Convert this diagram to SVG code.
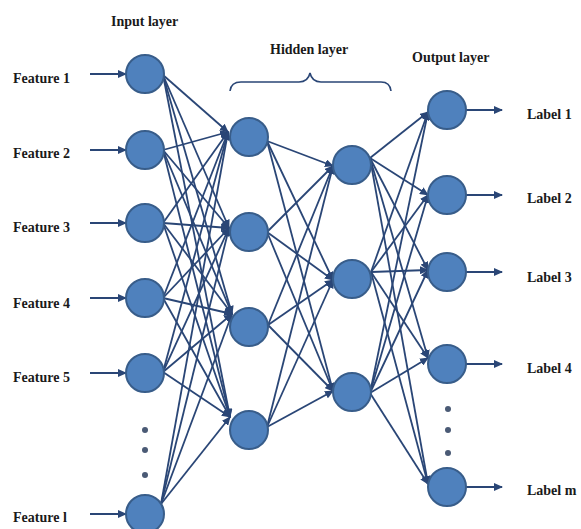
<svg xmlns="http://www.w3.org/2000/svg" width="581" height="529" viewBox="0 0 581 529">
<defs>
<style>
.t{font-family:"Liberation Serif","Times New Roman",serif;font-weight:bold;font-size:14px;fill:#1a1a1a}
.n{fill:#4F81BD;stroke:#385D8A;stroke-width:2}
.c line{stroke:#2A4676;stroke-width:1.8;marker-end:url(#ah)}
.d{fill:#4A5A75}
</style>
<marker id="ah" markerUnits="userSpaceOnUse" markerWidth="9" markerHeight="8" refX="8" refY="4" orient="auto">
<path d="M0,0 L9,4 L0,8 z" fill="#2A4676"/>
</marker>
</defs>
<rect width="581" height="529" fill="#fff"/>
<g id="titles">
<text class="t" x="111" y="26">Input layer</text>
<text class="t" x="270" y="54">Hidden layer</text>
<text class="t" x="412" y="62">Output layer</text>
<path d="M230,91 Q231,82 241,82 L299,82 Q308,82 310,73 Q312,82 321,82 L381,82 Q390,82 391,91" fill="none" stroke="#2A4676" stroke-width="1.6"/>
</g>
<g id="connectors" class="c">
<line x1="90" y1="74" x2="126" y2="74"/>
<line x1="90" y1="150" x2="126" y2="150"/>
<line x1="90" y1="223" x2="126" y2="223"/>
<line x1="90" y1="298" x2="126" y2="298"/>
<line x1="90" y1="373" x2="126" y2="373"/>
<line x1="90" y1="514" x2="126" y2="514"/>
<line x1="163" y1="75" x2="228" y2="132"/>
<line x1="163" y1="75" x2="229" y2="228"/>
<line x1="163" y1="75" x2="232" y2="314"/>
<line x1="163" y1="75" x2="230" y2="417"/>
<line x1="163" y1="150" x2="228" y2="132"/>
<line x1="163" y1="150" x2="229" y2="228"/>
<line x1="163" y1="150" x2="232" y2="314"/>
<line x1="163" y1="150" x2="230" y2="417"/>
<line x1="163" y1="223" x2="228" y2="132"/>
<line x1="163" y1="223" x2="229" y2="228"/>
<line x1="163" y1="223" x2="232" y2="314"/>
<line x1="163" y1="223" x2="230" y2="417"/>
<line x1="163" y1="298" x2="228" y2="132"/>
<line x1="163" y1="298" x2="229" y2="228"/>
<line x1="163" y1="298" x2="232" y2="314"/>
<line x1="163" y1="298" x2="230" y2="417"/>
<line x1="163" y1="372" x2="228" y2="132"/>
<line x1="163" y1="372" x2="229" y2="228"/>
<line x1="163" y1="372" x2="232" y2="314"/>
<line x1="163" y1="372" x2="230" y2="417"/>
<line x1="161" y1="504" x2="228" y2="132"/>
<line x1="161" y1="504" x2="229" y2="228"/>
<line x1="161" y1="504" x2="232" y2="314"/>
<line x1="161" y1="504" x2="230" y2="417"/>
<line x1="267" y1="141" x2="333" y2="166"/>
<line x1="267" y1="141" x2="333" y2="280"/>
<line x1="267" y1="141" x2="333" y2="391"/>
<line x1="267" y1="232" x2="333" y2="166"/>
<line x1="267" y1="232" x2="333" y2="280"/>
<line x1="267" y1="232" x2="333" y2="391"/>
<line x1="268" y1="325" x2="333" y2="166"/>
<line x1="268" y1="325" x2="333" y2="280"/>
<line x1="268" y1="325" x2="333" y2="391"/>
<line x1="267" y1="427" x2="333" y2="166"/>
<line x1="267" y1="427" x2="333" y2="280"/>
<line x1="267" y1="427" x2="333" y2="391"/>
<line x1="370" y1="158" x2="428" y2="112"/>
<line x1="370" y1="158" x2="428" y2="195"/>
<line x1="370" y1="158" x2="428" y2="270"/>
<line x1="370" y1="158" x2="428" y2="358"/>
<line x1="370" y1="158" x2="428" y2="484"/>
<line x1="371" y1="272" x2="428" y2="112"/>
<line x1="371" y1="272" x2="428" y2="195"/>
<line x1="371" y1="272" x2="428" y2="270"/>
<line x1="371" y1="272" x2="428" y2="358"/>
<line x1="371" y1="272" x2="428" y2="484"/>
<line x1="370" y1="393" x2="428" y2="112"/>
<line x1="370" y1="393" x2="428" y2="195"/>
<line x1="370" y1="393" x2="428" y2="270"/>
<line x1="370" y1="393" x2="428" y2="358"/>
<line x1="370" y1="393" x2="428" y2="484"/>
<line x1="466" y1="110" x2="502" y2="110"/>
<line x1="466" y1="195" x2="502" y2="195"/>
<line x1="466" y1="272" x2="502" y2="272"/>
<line x1="466" y1="364" x2="502" y2="364"/>
<line x1="466" y1="487" x2="502" y2="487"/>
</g>
<g id="input1"><circle class="n" cx="145" cy="74" r="19"/><text class="t" x="13" y="83">Feature 1</text></g>
<g id="input2"><circle class="n" cx="145" cy="150" r="19"/><text class="t" x="13" y="158">Feature 2</text></g>
<g id="input3"><circle class="n" cx="145" cy="223" r="19"/><text class="t" x="13" y="232">Feature 3</text></g>
<g id="input4"><circle class="n" cx="145" cy="298" r="19"/><text class="t" x="13" y="308">Feature 4</text></g>
<g id="input5"><circle class="n" cx="145" cy="373" r="19"/><text class="t" x="13" y="382">Feature 5</text></g>
<g id="input-dots"><circle class="d" cx="145" cy="430" r="3"/><circle class="d" cx="145" cy="450" r="3"/><circle class="d" cx="145" cy="475" r="3"/></g>
<g id="inputl"><circle class="n" cx="145" cy="514" r="19"/><text class="t" x="13" y="522">Feature l</text></g>
<g id="hidden1-1"><circle class="n" cx="249" cy="137" r="19"/></g>
<g id="hidden1-2"><circle class="n" cx="249" cy="232" r="19"/></g>
<g id="hidden1-3"><circle class="n" cx="249" cy="327" r="19"/></g>
<g id="hidden1-4"><circle class="n" cx="249" cy="430" r="19"/></g>
<g id="hidden2-1"><circle class="n" cx="352" cy="165" r="19"/></g>
<g id="hidden2-2"><circle class="n" cx="352" cy="279" r="19"/></g>
<g id="hidden2-3"><circle class="n" cx="352" cy="392" r="19"/></g>
<g id="output1"><circle class="n" cx="447" cy="110" r="19"/><text class="t" x="527" y="119">Label 1</text></g>
<g id="output2"><circle class="n" cx="447" cy="195" r="19"/><text class="t" x="527" y="203">Label 2</text></g>
<g id="output3"><circle class="n" cx="447" cy="272" r="19"/><text class="t" x="527" y="282">Label 3</text></g>
<g id="output4"><circle class="n" cx="447" cy="364" r="19"/><text class="t" x="527" y="373">Label 4</text></g>
<g id="output-dots"><circle class="d" cx="448" cy="409" r="3"/><circle class="d" cx="448" cy="430" r="3"/><circle class="d" cx="448" cy="453" r="3"/></g>
<g id="outputm"><circle class="n" cx="447" cy="487" r="19"/><text class="t" x="527" y="495">Label m</text></g>
</svg>
